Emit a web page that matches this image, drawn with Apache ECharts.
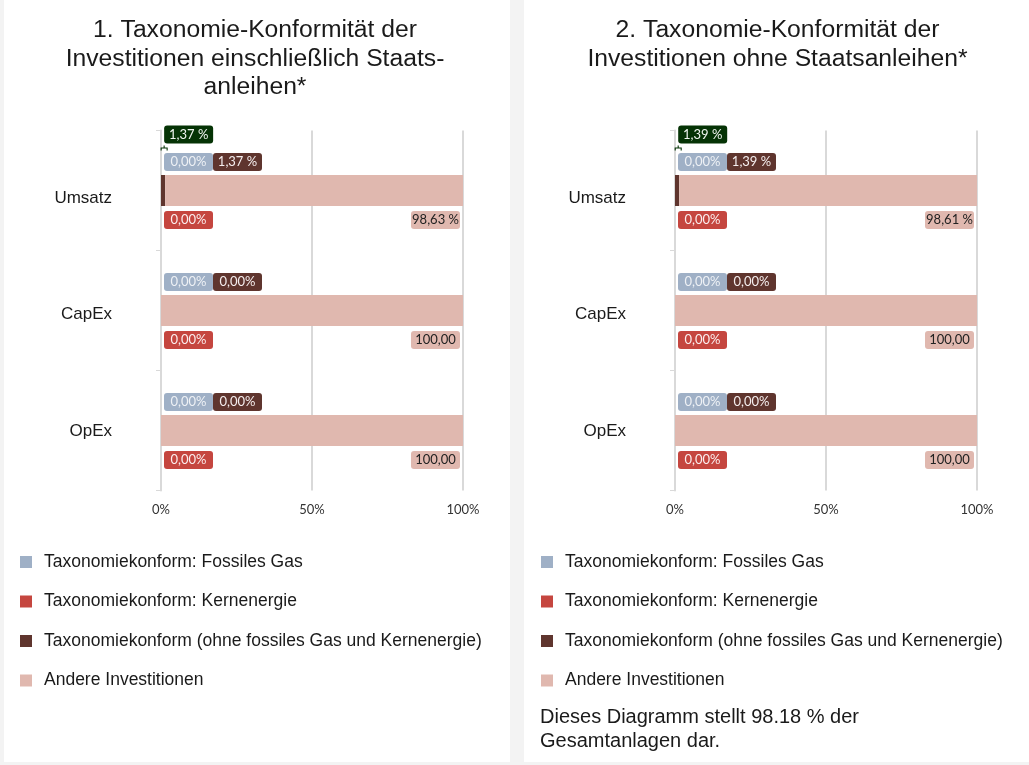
<!DOCTYPE html>
<html>
<head>
<meta charset="utf-8">
<style>html,body{margin:0;padding:0;background:#f3f3f3}#c{width:1029px;height:765px}</style>
<script src="https://cdn.jsdelivr.net/npm/echarts@6/dist/echarts.min.js"></script>
</head>
<body>
<div id="c"></div>
<script>
const categories = ['Umsatz', 'CapEx', 'OpEx'];
const seriesNames = ['Taxonomiekonform: Fossiles Gas', 'Taxonomiekonform: Kernenergie', 'Taxonomiekonform (ohne fossiles Gas und Kernenergie)', 'Andere Investitionen'];

const gas1 = [0, 0, 0];
const nuclear1 = [0, 0, 0];
const aligned1 = [1.37, 0, 0];
const other1 = [98.63, 100, 100];
const gasLabels1 = ['0,00%', '0,00%', '0,00%'];
const nuclearLabels1 = ['0,00%', '0,00%', '0,00%'];
const alignedLabels1 = ['1,37 %', '0,00%', '0,00%'];
const otherLabels1 = ['98,63 %', '100,00', '100,00'];
const total1 = 1.37;
const totalLabel1 = '1,37 %';

const gas2 = [0, 0, 0];
const nuclear2 = [0, 0, 0];
const aligned2 = [1.39, 0, 0];
const other2 = [98.61, 100, 100];
const gasLabels2 = ['0,00%', '0,00%', '0,00%'];
const nuclearLabels2 = ['0,00%', '0,00%', '0,00%'];
const alignedLabels2 = ['1,39 %', '0,00%', '0,00%'];
const otherLabels2 = ['98,61 %', '100,00', '100,00'];
const total2 = 1.39;
const totalLabel2 = '1,39 %';

const xTicks = [0, 50, 100];
const title1 = '1. Taxonomie-Konformität der\nInvestitionen einschließlich Staats-\nanleihen*';
const title2 = '2. Taxonomie-Konformität der\nInvestitionen ohne Staatsanleihen*';
const note = 'Dieses Diagramm stellt 98.18 % der\nGesamtanlagen dar.';

const colors = { gas: '#9fb0c6', nuclear: '#c5463f', aligned: '#5f352e', other: '#e0b8af', total: '#053305' };
const grey = '#d9d9d9';
const labelFont = 'Lato, Carlito, sans-serif';
const mainFont = '"Liberation Sans", Arial, sans-serif';

function barLabel(texts, bg, fg, pos, offset) {
  return {
    show: true, position: pos, distance: 0, offset,
    formatter: p => texts[p.dataIndex],
    backgroundColor: bg, color: fg, borderRadius: 3,
    width: 49, height: 18, lineHeight: 18, align: 'center', verticalAlign: 'middle',
    fontFamily: labelFont, fontSize: 13
  };
}
function panel(idx, gas, nuclear, aligned, other, gl, nl, al, ol, total, totalLabel) {
  const base = { type: 'bar', stack: 's' + idx, xAxisIndex: idx, yAxisIndex: idx, barWidth: 31, z: 3, emphasis: { disabled: true }, animation: false };
  return [
    { ...base, name: seriesNames[0], data: gas, itemStyle: { color: colors.gas }, label: barLabel(gl, colors.gas, '#eef1f5', 'insideLeft', [27.5, -28.5]) },
    { ...base, name: seriesNames[1], data: nuclear, itemStyle: { color: colors.nuclear }, label: barLabel(nl, colors.nuclear, '#fbeeee', 'insideLeft', [27.5, 29.5]) },
    { ...base, name: seriesNames[2], data: aligned, itemStyle: { color: colors.aligned }, label: barLabel(al, colors.aligned, '#f5eeee', 'insideLeft', [76.5, -28.5]) },
    { ...base, name: seriesNames[3], data: other, itemStyle: { color: colors.other }, label: barLabel(ol, colors.other, '#222222', 'insideRight', [-27.5, 29.5]) },
    {
      type: 'scatter', name: 'Summe', xAxisIndex: idx, yAxisIndex: idx, z: 4, animation: false, silent: true,
      data: [[total, categories[0]]],
      symbol: 'path://M0 6V3H7V6M3.5 3V0', symbolSize: [6, 5], symbolOffset: [-1, -42.5],
      itemStyle: { color: 'rgba(0,0,0,0)', borderColor: colors.total, borderWidth: 1, opacity: 1 },
      label: { ...barLabel([totalLabel], colors.total, '#f0f5f0', 'inside', [24.5, -13.5]), opacity: 1 }
    }
  ];
}
function legend(left) {
  return {
    show: true, orient: 'vertical', left, top: 553, data: seriesNames, selectedMode: false,
    icon: 'rect', itemWidth: 12, itemHeight: 12, itemGap: 21.5, padding: 0,
    textStyle: { fontFamily: mainFont, fontSize: 17.5, color: '#1a1a1a', padding: [0, 0, 0, 7], lineHeight: 18 }
  };
}
function xAxis(i) {
  return {
    type: 'value', gridIndex: i, min: xTicks[0], max: xTicks[2], interval: xTicks[1],
    axisLine: { show: false }, axisTick: { show: false },
    axisLabel: { formatter: '{value}%', fontFamily: labelFont, fontSize: 13, color: '#333333', margin: 13 },
    splitLine: { show: true, lineStyle: { color: grey, width: 2 } }
  };
}
function yAxis(i) {
  const cat = { fontFamily: mainFont, fontSize: 17, color: '#1a1a1a' };
  return {
    type: 'category', gridIndex: i, inverse: true, data: categories,
    axisLine: { show: true, lineStyle: { color: grey, width: 2 } },
    axisTick: { show: true, length: 5, lineStyle: { color: grey } },
    axisLabel: {
      ...cat, margin: 49,
      formatter: (v, k) => '{c' + k + '|' + v + '}',
      rich: {
        c0: { ...cat, padding: [16, 0, 0, 0] },
        c1: { ...cat, padding: [8, 0, 0, 0] },
        c2: { ...cat, padding: [2, 0, 0, 0] }
      }
    }
  };
}
const titleStyle = { fontFamily: mainFont, fontSize: 24.7, fontWeight: 'normal', color: '#1a1a1a', lineHeight: 28.5 };
const chart = echarts.init(document.getElementById('c'));
chart.setOption({
  backgroundColor: '#f3f3f3',
  animation: false,
  graphic: [
    { type: 'rect', z: -10, silent: true, shape: { x: 4, y: 0, width: 506, height: 762 }, style: { fill: '#ffffff' } },
    { type: 'rect', z: -10, silent: true, shape: { x: 524, y: 0, width: 505, height: 762 }, style: { fill: '#ffffff' } }
  ],
  title: [
    { text: title1, left: 255, top: 16, textAlign: 'center', padding: 0, textStyle: titleStyle },
    { text: title2, left: 777.5, top: 16, textAlign: 'center', padding: 0, textStyle: titleStyle },
    { text: note, left: 540, top: 705, padding: 0, textStyle: { fontFamily: mainFont, fontSize: 20, fontWeight: 'normal', color: '#1a1a1a', lineHeight: 24 } }
  ],
  legend: [legend(20), legend(541)],
  tooltip: { show: false },
  grid: [
    { left: 161, top: 130.5, width: 302, height: 360, containLabel: false },
    { left: 675, top: 130.5, width: 302, height: 360, containLabel: false }
  ],
  xAxis: [xAxis(0), xAxis(1)],
  yAxis: [yAxis(0), yAxis(1)],
  series: [
    ...panel(0, gas1, nuclear1, aligned1, other1, gasLabels1, nuclearLabels1, alignedLabels1, otherLabels1, total1, totalLabel1),
    ...panel(1, gas2, nuclear2, aligned2, other2, gasLabels2, nuclearLabels2, alignedLabels2, otherLabels2, total2, totalLabel2)
  ]
});
</script>
</body>
</html>
